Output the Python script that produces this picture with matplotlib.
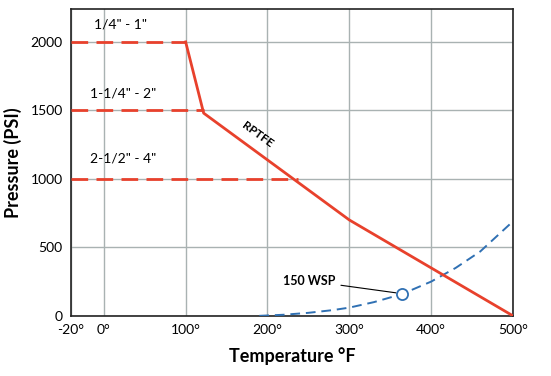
import matplotlib
matplotlib.use('Agg')
import matplotlib.pyplot as plt

plt.rcParams['font.family'] = ['Liberation Sans Narrow', 'Lato', 'DejaVu Sans']

# RPTFE rating curve (temperature F, pressure PSI)
rptfe_t = [100, 122, 300, 500]
rptfe_p = [2000, 1480, 700, 0]

# size-limited dashed segments
sizes = ['1/4" - 1"', '1-1/4" - 2"', '2-1/2" - 4"']
size_p = [2000, 1500, 1000]
size_end = [100, 122, 237]
label_t = [21, 24, 24]
label_p = [2125, 1625, 1150]

# 150 WSP saturated steam curve
wsp_t = [190, 220, 250, 280, 300, 330, 364, 400, 430, 460, 500]
wsp_p = [0, 8, 22, 42, 60, 100, 158, 250, 350, 470, 690]
wsp_mark = (364, 158)

xticks = [-40, 0, 100, 200, 300, 400, 500]
xlabels = ['-20°', '0°', '100°', '200°', '300°', '400°', '500°']
yticks = [0, 500, 1000, 1500, 2000]

red = '#e8412c'
blue = '#2f70b3'

fig = plt.figure(figsize=(5.51, 3.76), dpi=100)
ax = fig.add_axes([0.129, 0.16, 0.802, 0.816])

for p, e in zip(size_p, size_end):
    ax.plot([-40, e], [p, p], color=red, lw=2, dashes=(6, 3), zorder=3)
ax.plot(rptfe_t, rptfe_p, color=red, lw=2, zorder=4)
ax.plot(wsp_t, wsp_p, color=blue, lw=1.4, dashes=(5, 3), zorder=3)
ax.plot([wsp_mark[0]], [wsp_mark[1]], 'o', ms=8, mfc='white', mec=blue, mew=1.3, zorder=5)

for s, t, p in zip(sizes, label_t, label_p):
    ax.text(t, p, s, ha='center', va='center', fontsize=10)

ax.text(188, 1320, 'RPTFE', rotation=-36, ha='center', va='center', fontsize=8.5, fontweight='bold')
ax.annotate('150 WSP', xy=(357, 168), xytext=(283, 255), ha='right', va='center',
            fontsize=9, fontweight='bold',
            arrowprops=dict(arrowstyle='-', color='black', lw=0.8, shrinkA=2, shrinkB=0))

ax.set_xlim(-40, 500)
ax.set_ylim(0, 2240)
ax.set_xticks(xticks)
ax.set_xticklabels(xlabels)
ax.set_yticks(yticks)
ax.tick_params(length=0, labelsize=10, pad=6)
ax.grid(True, color='#a9b2b2', lw=1)
ax.set_axisbelow(True)
for sp in ax.spines.values():
    sp.set_color('#222222')
    sp.set_linewidth(1.2)

ax.set_xlabel('Temperature °F', fontsize=13, fontweight='bold', labelpad=8)
ax.set_ylabel('Pressure (PSI)', fontsize=13, fontweight='bold', labelpad=6)

fig.savefig('out.png', dpi=100)
